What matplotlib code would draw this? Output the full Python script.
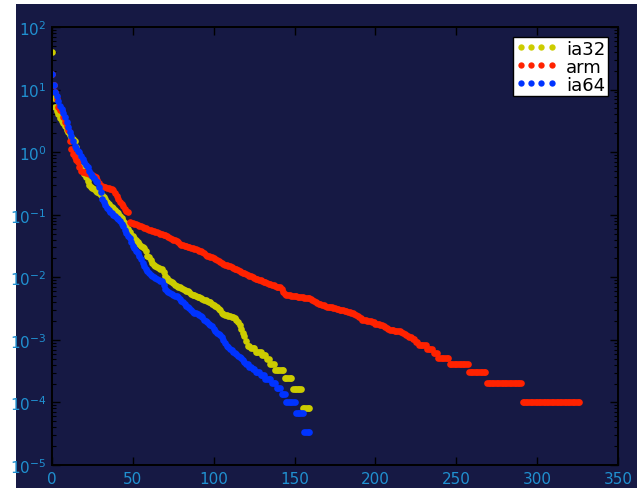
import matplotlib
matplotlib.use("Agg")
import matplotlib.pyplot as plt
from matplotlib.patches import Rectangle

# sorted values per rank
ia32 = ([40, 7.2, 5.2, 4.6, 4.0, 3.5, 3.2, 2.9, 2.6, 2.3,
         2.1, 1.9, 1.75, 1.6, 1.5, 1.2, 1.0, 0.9, 0.78, 0.6,
         0.45, 0.40, 0.34, 0.30, 0.28, 0.27, 0.26, 0.24, 0.23, 0.22,
         0.21, 0.21, 0.19, 0.18, 0.16, 0.15, 0.14, 0.135, 0.13, 0.12,
         0.11, 0.105, 0.095, 0.088, 0.08, 0.074, 0.07, 0.06, 0.052, 0.048,
         0.045, 0.042, 0.039, 0.036, 0.034, 0.032, 0.031, 0.029, 0.026, 0.022,
         0.021, 0.019, 0.017, 0.016, 0.015, 0.0145, 0.014, 0.0138, 0.0135, 0.012,
         0.0105, 0.0098, 0.0092, 0.0088, 0.0085, 0.008, 0.0075, 0.0072, 0.007, 0.0069,
         0.0067, 0.0065, 0.0063, 0.0061, 0.006, 0.0058, 0.0055, 0.0053, 0.0052, 0.005,
         0.0049, 0.0048, 0.0047, 0.0045, 0.0044, 0.0043, 0.0042, 0.0041, 0.0040, 0.0038,
         0.0036, 0.0035, 0.0033, 0.0031, 0.003, 0.0027, 0.0026, 0.0025, 0.0025, 0.0024,
         0.0024, 0.0023, 0.0023, 0.0022, 0.0021, 0.0019, 0.0017, 0.0015, 0.0013, 0.00115,
         0.00097]
        + [8.1e-4] * 2 + [7.3e-4] * 3 + [6.5e-4] * 4 + [5.7e-4] * 3
        + [4.9e-4] * 2 + [4.05e-4] * 3 + [3.24e-4] * 6 + [2.43e-4] * 5
        + [1.62e-4] * 6 + [8.1e-5] * 5)

arm = ([17.5, 12, 9, 7, 5.3, 4.8, 4.5, 3.6, 3.0, 2.6,
        2.3, 1.5, 1.12, 0.95, 0.83, 0.76, 0.69, 0.58, 0.50, 0.49,
        0.48, 0.47, 0.46, 0.45, 0.44, 0.43, 0.41, 0.40, 0.36, 0.32,
        0.29, 0.285, 0.28, 0.275, 0.27, 0.265, 0.26, 0.255, 0.25, 0.22,
        0.20, 0.18, 0.16, 0.15, 0.14, 0.125, 0.115, 0.11, 0.076, 0.075,
        0.073, 0.071, 0.07, 0.068, 0.066, 0.065, 0.064, 0.062, 0.061, 0.06,
        0.058, 0.056, 0.055, 0.054, 0.053, 0.052, 0.051, 0.050, 0.049, 0.048,
        0.047, 0.046, 0.044, 0.042, 0.041, 0.040, 0.039, 0.038, 0.036, 0.034,
        0.033, 0.0325, 0.032, 0.0315, 0.031, 0.030, 0.0295, 0.029, 0.0285, 0.028,
        0.027, 0.026, 0.026, 0.025, 0.024, 0.023, 0.022, 0.0215, 0.021, 0.021,
        0.020, 0.0195, 0.019, 0.018, 0.0175, 0.017, 0.0165, 0.016, 0.0155, 0.015,
        0.015, 0.0145, 0.0142, 0.0138, 0.0135, 0.013, 0.0126, 0.0122, 0.0118, 0.0115,
        0.0112, 0.0109, 0.0106, 0.0103, 0.010, 0.0097, 0.0095, 0.0093, 0.0091, 0.0089,
        0.0087, 0.0085, 0.0083, 0.0081, 0.0079, 0.0077, 0.0076, 0.0074, 0.0072, 0.0071,
        0.007, 0.0069, 0.0064, 0.0058, 0.0054, 0.0053, 0.0052, 0.0052, 0.0051, 0.0051,
        0.005, 0.005, 0.0049, 0.0049, 0.0048, 0.0048, 0.0047, 0.0047, 0.0046, 0.0046,
        0.0045, 0.0043, 0.0042, 0.0041, 0.0039, 0.0038, 0.0037, 0.0036, 0.0036, 0.0035,
        0.0034, 0.0034, 0.0033, 0.0033, 0.0032, 0.0032, 0.0031, 0.0031, 0.0030, 0.0030,
        0.0030, 0.0029, 0.0029, 0.0028, 0.0028, 0.0027, 0.0027, 0.0026, 0.0025, 0.0024,
        0.0023, 0.0022, 0.0021, 0.0021, 0.0021, 0.0020, 0.0020, 0.0020, 0.0019, 0.0019,
        0.0018, 0.0018, 0.0018, 0.0017, 0.0017, 0.00166, 0.0016, 0.00155, 0.0015, 0.00145,
        0.00143, 0.00142, 0.00141, 0.0014, 0.00139, 0.00138, 0.00132, 0.00127, 0.00123, 0.0012,
        0.00117, 0.00113, 0.0011]
       + [1.03e-3] * 2 + [9.3e-4] * 2 + [8.2e-4] * 5 + [7.2e-4] * 4
       + [6.2e-4] * 3 + [5.15e-4] * 7 + [4.1e-4] * 12 + [3.1e-4] * 11
       + [2.06e-4] * 22 + [1.03e-4] * 36)

ia64 = ([17.8, 11.7, 9.0, 7.9, 6.5, 5.5, 4.9, 4.2, 3.6, 3.0,
         2.5, 2.1, 1.8, 1.5, 1.26, 1.15, 1.05, 1.0, 0.88, 0.78,
         0.69, 0.63, 0.58, 0.50, 0.45, 0.42, 0.38, 0.35, 0.33, 0.28,
         0.23, 0.18, 0.16, 0.145, 0.13, 0.12, 0.11, 0.105, 0.10, 0.095,
         0.09, 0.085, 0.078, 0.071, 0.066, 0.058, 0.051, 0.046, 0.042, 0.036,
         0.032, 0.029, 0.026, 0.024, 0.022, 0.0195, 0.017, 0.015, 0.0135, 0.0125,
         0.0118, 0.011, 0.0105, 0.0101, 0.0097, 0.0093, 0.009, 0.0088, 0.0087, 0.0074,
         0.0065, 0.0061, 0.0058, 0.0056, 0.0054, 0.0052, 0.0051, 0.005, 0.0048, 0.0045,
         0.0042, 0.0040, 0.0038, 0.0035, 0.0033, 0.0032, 0.0030, 0.0028, 0.0027, 0.0027,
         0.0026, 0.0025, 0.0024, 0.0023, 0.0021, 0.002, 0.0019, 0.0018, 0.0017, 0.00165,
         0.0015, 0.0014, 0.0013, 0.00125, 0.0012, 0.0011, 0.00098, 0.00088, 0.0008, 0.00076,
         0.00072, 0.00068, 0.00065, 0.00061, 0.00059, 0.00056, 0.00054, 0.00051, 0.00048, 0.00044]
        + [4.1e-4] * 2 + [3.7e-4] * 2 + [3.4e-4] * 2 + [3.1e-4] * 3
        + [2.7e-4] * 3 + [2.4e-4] * 4 + [2.04e-4] * 3 + [1.7e-4] * 3
        + [1.36e-4] * 3 + [1.02e-4] * 6 + [6.8e-5] * 5 + [3.4e-5] * 4)

navy = "#161944"
tick_col = "#2090d0"

fig = plt.figure(figsize=(6.37, 4.89), dpi=100)
fig.patch.set_facecolor("white")
fig.patches.append(Rectangle((16 / 637, 0), 1, 1 - 5 / 489, transform=fig.transFigure,
                             facecolor=navy, edgecolor="none", zorder=-10))

ax = fig.add_axes([52 / 637, 1 - 466 / 489, 566 / 637, 438 / 489])
ax.set_facecolor(navy)

for name, vals, col in [("ia32", ia32, "#cccc00"), ("arm", arm, "#ff2200"), ("ia64", ia64, "#0033ff")]:
    ax.semilogy(range(len(vals)), vals, "o", color=col, ms=4.8, mew=0, label=name)

ax.set_xlim(0, 350)
ax.set_ylim(1e-5, 1e2)

for s in ax.spines.values():
    s.set_color("black")
    s.set_linewidth(1.4)
ax.tick_params(which="both", direction="in", top=True, right=True, color="black",
               labelcolor=tick_col, labelsize=11)
ax.tick_params(which="major", length=6, width=1)
ax.tick_params(which="minor", length=3, width=0.8)
ax.tick_params(axis="x", pad=4)
ax.tick_params(axis="y", pad=4)

leg = ax.legend(loc="upper right", numpoints=4, fancybox=False, framealpha=1,
                edgecolor="black", fontsize=13, handlelength=2.3, handletextpad=0.5,
                borderpad=0.15, labelspacing=0.0, borderaxespad=0.55, markerscale=0.95)
leg.get_frame().set_linewidth(1.0)

fig.savefig("out.png", dpi=100, facecolor=fig.get_facecolor())
